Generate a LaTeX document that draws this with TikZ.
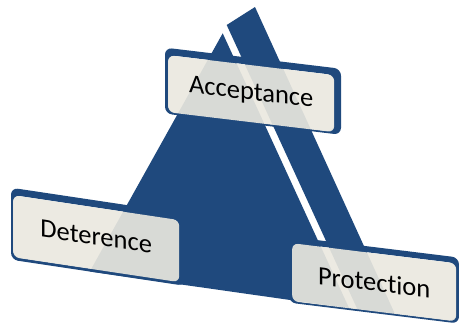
\documentclass[tikz,border=0pt]{standalone}
\usepackage{fontspec}
\setmainfont{Carlito}[Ligatures=NoCommon, RawFeature={-liga;-dlig;-clig}]
\definecolor{tblue}{RGB}{31,73,125}
\definecolor{boxfill}{RGB}{234,232,223}
\tikzset{
  piece/.style={fill=tblue},
  slab/.style={fill=tblue, even odd rule, rounded corners=7pt},
  labelbox/.style={rectangle, rounded corners=6pt, fill=boxfill, fill opacity=0.915, text opacity=1,
    text=black, inner sep=0pt, anchor=north west, transform shape,
    font=\fontsize{26.5}{30}\selectfont}
}
\begin{document}
\begin{tikzpicture}[x=1pt,y=-1pt]
\useasboundingbox (0,0) rectangle (459,327);
% triangle, split by a white diagonal gap
\fill[piece] (222.7,33.3) -- (349.2,308.4) -- (89.8,271.5) -- cycle;
\fill[piece] (226.7,25) -- (255,7) -- (395.4,315) -- (357.6,309.6) -- cycle;
% Acceptance
\begin{scope}[shift={(168,55)}, yslant=-0.12]
  \fill[slab] (-3,-7) rectangle (173,59) (0,0) rectangle (166,57);
  \node[labelbox, minimum width=166pt, minimum height=57pt] (acc) at (0,0) {Acceptance};
\end{scope}
% Deterence
\begin{scope}[shift={(13,195)}, yslant=-0.15]
  \fill[slab] (-2,-7) rectangle (172,65) (0,0) rectangle (166,62);
  \node[labelbox, minimum width=166pt, minimum height=62pt] (det) at (0,0) {\raisebox{4pt}{Deterence}};
\end{scope}
% Protection
\begin{scope}[shift={(292,243)}, yslant=-0.123]
  \fill[slab] (-3,-6) rectangle (167,60) (0,0) rectangle (164,58);
  \node[labelbox, minimum width=164pt, minimum height=58pt] (pro) at (0,0) {Protection};
\end{scope}
\end{tikzpicture}
\end{document}
